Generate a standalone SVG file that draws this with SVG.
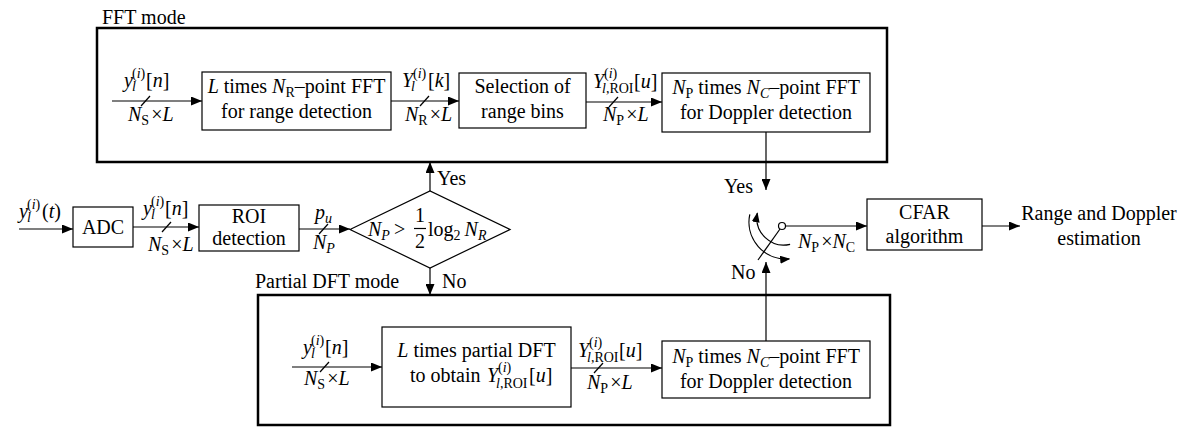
<svg xmlns="http://www.w3.org/2000/svg" width="1189" height="428" viewBox="0 0 1189 428">
<defs>
<style>
text { font-family: "Liberation Serif", "Times New Roman", serif; font-size: 20px; fill: #000; }
.i { font-style: italic; }
.s { font-size: 14px; }
.mid { text-anchor: middle; }
.end { text-anchor: end; }
.frame { fill: none; stroke: #000; stroke-width: 2.5; }
.box { fill: #fff; stroke: #000; stroke-width: 1.2; }
.ln { fill: none; stroke: #000; stroke-width: 1.2; }
.arr { fill: none; stroke: #000; stroke-width: 1.2; marker-end: url(#ah); }
.arc { fill: none; stroke: #000; stroke-width: 1.2; marker-end: url(#ahs); }
</style>
<marker id="ah" markerWidth="11" markerHeight="9" refX="11" refY="4.5" orient="auto" markerUnits="userSpaceOnUse"><path d="M0,0 L11,4.5 L0,9 z" fill="#000"/></marker>
<marker id="ahs" markerWidth="10" markerHeight="8" refX="9" refY="4" orient="auto" markerUnits="userSpaceOnUse"><path d="M0,0 L10,4 L0,8 z" fill="#000"/></marker>
</defs>

<!-- FFT mode frame -->
<g id="fft-mode">
<rect class="frame" x="97" y="28" width="790" height="134"/>
<text x="102" y="24">FFT mode</text>
</g>

<!-- Partial DFT mode frame -->
<g id="dft-mode">
<rect class="frame" x="258" y="295" width="632" height="130"/>
<text x="255" y="288">Partial DFT mode</text>
</g>

<g id="connectors">
<!-- top row -->
<line class="arr" x1="112" y1="101" x2="202" y2="101"/>
<line class="ln" x1="141" y1="106" x2="150" y2="96"/>
<line class="arr" x1="391" y1="101" x2="459" y2="101"/>
<line class="ln" x1="420" y1="106" x2="429" y2="96"/>
<line class="arr" x1="586" y1="102" x2="662" y2="102"/>
<line class="ln" x1="609" y1="107" x2="618" y2="97"/>
<line class="arr" x1="766" y1="132" x2="766" y2="190"/>
<!-- middle row -->
<line class="arr" x1="19" y1="229" x2="73" y2="229"/>
<line class="arr" x1="133" y1="227" x2="199" y2="227"/>
<line class="ln" x1="162" y1="232" x2="171" y2="222"/>
<line class="arr" x1="299" y1="229" x2="350" y2="229"/>
<line class="ln" x1="319" y1="234" x2="328" y2="224"/>
<line class="arr" x1="430" y1="191" x2="430" y2="162"/>
<line class="arr" x1="430" y1="268" x2="430" y2="295"/>
<!-- bottom row -->
<line class="arr" x1="292" y1="367" x2="382" y2="367"/>
<line class="ln" x1="320" y1="372" x2="329" y2="362"/>
<line class="arr" x1="571" y1="368" x2="662" y2="368"/>
<line class="ln" x1="594" y1="373" x2="603" y2="363"/>
<line class="arr" x1="766" y1="341" x2="766" y2="262"/>
<!-- switch to CFAR -->
<line class="arr" x1="785.5" y1="226" x2="867" y2="226"/>
<line class="arr" x1="982" y1="226" x2="1020" y2="226"/>
</g>

<!-- connector labels -->
<g id="labels">
<!-- top row -->
<text y="87"><tspan x="124" class="i">y</tspan><tspan x="132" y="91" class="s i">l</tspan><tspan x="132" y="78" class="s">(<tspan class="i">i</tspan>)</tspan><tspan x="146" y="87">[<tspan class="i">n</tspan>]</tspan></text>
<text x="128" y="121"><tspan class="i">N</tspan><tspan class="s" dy="4">S</tspan><tspan dx="2" dy="-4">×</tspan><tspan class="i">L</tspan></text>

<text y="87"><tspan x="402" class="i">Y</tspan><tspan x="411" y="91" class="s i">l</tspan><tspan x="413" y="78" class="s">(<tspan class="i">i</tspan>)</tspan><tspan x="428" y="87">[<tspan class="i">k</tspan>]</tspan></text>
<text x="405" y="121"><tspan class="i">N</tspan><tspan class="s" dy="4">R</tspan><tspan dx="2" dy="-4">×</tspan><tspan class="i">L</tspan></text>

<text y="88"><tspan x="593" class="i">Y</tspan><tspan x="602" y="93" class="s"><tspan class="i">l</tspan>,ROI</tspan><tspan x="604" y="78" class="s">(<tspan class="i">i</tspan>)</tspan><tspan x="634" y="88">[<tspan class="i">u</tspan>]</tspan></text>
<text x="603" y="121"><tspan class="i">N</tspan><tspan class="s" dy="4">P</tspan><tspan dx="2" dy="-4">×</tspan><tspan class="i">L</tspan></text>

<text class="end" x="753" y="193">Yes</text>

<!-- middle row -->
<text y="218"><tspan x="19" class="i">y</tspan><tspan x="27" y="222" class="s i">l</tspan><tspan x="27" y="209" class="s">(<tspan class="i">i</tspan>)</tspan><tspan x="42" y="218">(<tspan class="i">t</tspan>)</tspan></text>

<text y="215"><tspan x="143" class="i">y</tspan><tspan x="151" y="219" class="s i">l</tspan><tspan x="151" y="206" class="s">(<tspan class="i">i</tspan>)</tspan><tspan x="165" y="215">[<tspan class="i">n</tspan>]</tspan></text>
<text x="148" y="251"><tspan class="i">N</tspan><tspan class="s" dy="4">S</tspan><tspan dx="2" dy="-4">×</tspan><tspan class="i">L</tspan></text>

<text x="315" y="219"><tspan class="i">p</tspan><tspan class="s i" dy="4">u</tspan></text>
<text x="313" y="249"><tspan class="i">N</tspan><tspan class="s i" dy="4">P</tspan></text>

<text x="437" y="185">Yes</text>
<text x="442" y="288">No</text>

<!-- bottom row -->
<text y="354"><tspan x="303" class="i">y</tspan><tspan x="311" y="358" class="s i">l</tspan><tspan x="311" y="345" class="s">(<tspan class="i">i</tspan>)</tspan><tspan x="325" y="354">[<tspan class="i">n</tspan>]</tspan></text>
<text x="304" y="385"><tspan class="i">N</tspan><tspan class="s" dy="4">S</tspan><tspan dx="2" dy="-4">×</tspan><tspan class="i">L</tspan></text>

<text y="357"><tspan x="578" class="i">Y</tspan><tspan x="587" y="362" class="s"><tspan class="i">l</tspan>,ROI</tspan><tspan x="589" y="347" class="s">(<tspan class="i">i</tspan>)</tspan><tspan x="619" y="357">[<tspan class="i">u</tspan>]</tspan></text>
<text x="587" y="389"><tspan class="i">N</tspan><tspan class="s" dy="4">P</tspan><tspan dx="2" dy="-4">×</tspan><tspan class="i">L</tspan></text>

<text x="731" y="279">No</text>

<text x="798" y="248"><tspan class="i">N</tspan><tspan class="s" dy="4">P</tspan><tspan dx="2" dy="-4">×</tspan><tspan class="i">N</tspan><tspan class="s" dy="4">C</tspan></text>
</g>

<!-- nodes -->
<g id="fft-range">
<rect class="box" x="202" y="72" width="189" height="58"/>
<text class="mid" x="296.5" y="93"><tspan class="i">L</tspan> times <tspan class="i">N</tspan><tspan class="s" dy="4">R</tspan><tspan dy="-4">–point FFT</tspan></text>
<text class="mid" x="296.5" y="118">for range detection</text>
</g>

<g id="range-bins">
<rect class="box" x="459" y="73" width="127" height="55"/>
<text class="mid" x="522.5" y="93">Selection of</text>
<text class="mid" x="522.5" y="118">range bins</text>
</g>

<g id="fft-doppler-top">
<rect class="box" x="662" y="73" width="208" height="59"/>
<text class="mid" x="766" y="94"><tspan class="i">N</tspan><tspan class="s" dy="4">P</tspan><tspan dy="-4"> times </tspan><tspan class="i">N</tspan><tspan class="s i" dy="4">C</tspan><tspan dy="-4">–point FFT</tspan></text>
<text class="mid" x="766" y="119">for Doppler detection</text>
</g>

<g id="adc">
<rect class="box" x="73" y="207" width="60" height="40"/>
<text class="mid" x="103" y="234">ADC</text>
</g>

<g id="roi">
<rect class="box" x="199" y="205" width="100" height="46"/>
<text class="mid" x="249" y="223">ROI</text>
<text class="mid" x="249" y="245">detection</text>
</g>

<g id="decision">
<polygon class="box" points="350,229.5 430,191 510,229.5 430,268"/>
<text x="368" y="236"><tspan class="i">N</tspan><tspan class="s i" dy="4">P</tspan><tspan dx="4" dy="-4">&gt;</tspan></text>
<text class="mid" x="420" y="222">1</text>
<line class="ln" x1="414" y1="228.5" x2="426" y2="228.5"/>
<text class="mid" x="420" y="248">2</text>
<text x="428" y="236">log<tspan class="s" dy="4">2</tspan><tspan class="i" dx="4" dy="-4">N</tspan><tspan class="s i" dy="4">R</tspan></text>
</g>

<g id="partial-dft">
<rect class="box" x="382" y="327" width="189" height="80"/>
<text class="mid" x="476.5" y="357"><tspan class="i">L</tspan> times partial DFT</text>
<text x="410" y="382">to obtain</text>
<text y="382"><tspan x="487" class="i">Y</tspan><tspan x="496" y="388" class="s"><tspan class="i">l</tspan>,ROI</tspan><tspan x="498" y="372" class="s">(<tspan class="i">i</tspan>)</tspan><tspan x="529" y="382">[<tspan class="i">u</tspan>]</tspan></text>
</g>

<g id="fft-doppler-bottom">
<rect class="box" x="662" y="341" width="208" height="57"/>
<text class="mid" x="766" y="363"><tspan class="i">N</tspan><tspan class="s" dy="4">P</tspan><tspan dy="-4"> times </tspan><tspan class="i">N</tspan><tspan class="s i" dy="4">C</tspan><tspan dy="-4">–point FFT</tspan></text>
<text class="mid" x="766" y="388">for Doppler detection</text>
</g>

<g id="switch">
<line class="ln" x1="780" y1="229" x2="758" y2="260"/>
<path class="arc" d="M 749.8 214.3 A 37 37 0 0 0 789.2 258.9"/>
<path class="arc" d="M 790.1 244.3 A 27 27 0 0 1 757.3 213.2"/>
<circle cx="782" cy="226" r="3.5" fill="#fff" stroke="#000" stroke-width="1.2"/>
</g>

<g id="cfar">
<rect class="box" x="867" y="199" width="115" height="51"/>
<text class="mid" x="924.5" y="219">CFAR</text>
<text class="mid" x="924.5" y="243">algorithm</text>
</g>

<g id="output">
<text class="mid" x="1099" y="220">Range and Doppler</text>
<text class="mid" x="1099" y="245">estimation</text>
</g>
</svg>
